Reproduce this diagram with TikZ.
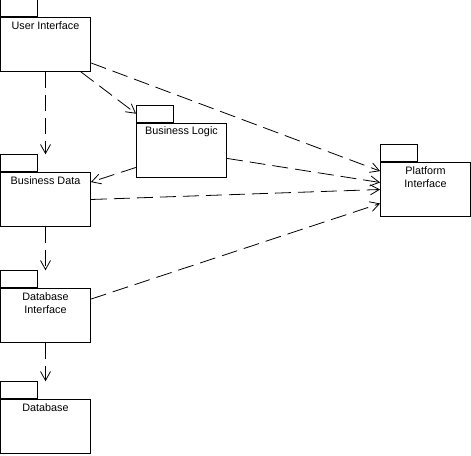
\documentclass[tikz,border=0pt]{standalone}
\usepackage{fontspec}
\setmainfont{Liberation Sans}
\usetikzlibrary{arrows.meta,positioning}
\newcommand{\pkglines}[2]{\begin{tabular}[t]{@{}c@{}}#1\\#2\end{tabular}}

\begin{document}
\begin{tikzpicture}[
      x=1pt,y=1pt,
      pkg/.style={draw,line width=0.8pt,minimum width=90pt,minimum height=54pt,inner xsep=0pt,inner ysep=1pt,
        text height=11pt,text depth=41pt,font=\fontsize{10.8}{13.5}\selectfont},
      pkgtab/.style={draw,line width=0.8pt,minimum width=37pt,minimum height=17pt,inner sep=0pt,anchor=south west},
      dep/.style={line width=0.8pt,dash pattern=on 16pt off 7pt,-{Straight Barb[length=9pt,width=10pt]}}
    ]
    \useasboundingbox (0,0) rectangle (471,455);
    \node[pkg] (ui) at (45.5,410.5) {User Interface};
    \node[pkgtab] (uitab) at (ui.north west) {};
    \node[pkg,below=100.2pt of ui] (bd) {Business Data};
    \node[pkgtab] (bdtab) at (bd.north west) {};
    \node[pkg,below=61.2pt of bd] (dbi) {\pkglines{Database}{Interface}};
    \node[pkgtab] (dbitab) at (dbi.north west) {};
    \node[pkg,below=56.2pt of dbi] (db) {Database};
    \node[pkgtab] (dbtab) at (db.north west) {};
    \node[pkg] (bl) at (181.5,305) {Business Logic};
    \node[pkgtab] (bltab) at (bl.north west) {};
    \node[pkg] (pi) at (425.5,265.5) {\pkglines{Platform}{Interface}};
    \node[pkgtab] (pitab) at (pi.north west) {};
    \draw[dep] (ui.south) -- (bd.north |- bdtab.north);
    \draw[dep] (bd.south) -- (dbi.north |- dbitab.north);
    \draw[dep] (dbi.south) -- (db.north |- dbtab.north);
    \draw[dep] ([xshift=-10pt]ui.south east) -- (bltab.west);
    \draw[dep] ([yshift=9pt]ui.south east) -- ([yshift=-9pt]pi.north west);
    \draw[dep] ([yshift=10pt]bl.south west) -- ([yshift=-10pt]bd.north east);
    \draw[dep] ([yshift=19pt]bl.south east) -- ([yshift=7pt]pi.west);
    \draw[dep] (bd.east) -- (pi.west);
    \draw[dep] ([yshift=-11pt]dbi.north east) -- ([yshift=-14pt]pi.west);
  \end{tikzpicture}
\end{document}
